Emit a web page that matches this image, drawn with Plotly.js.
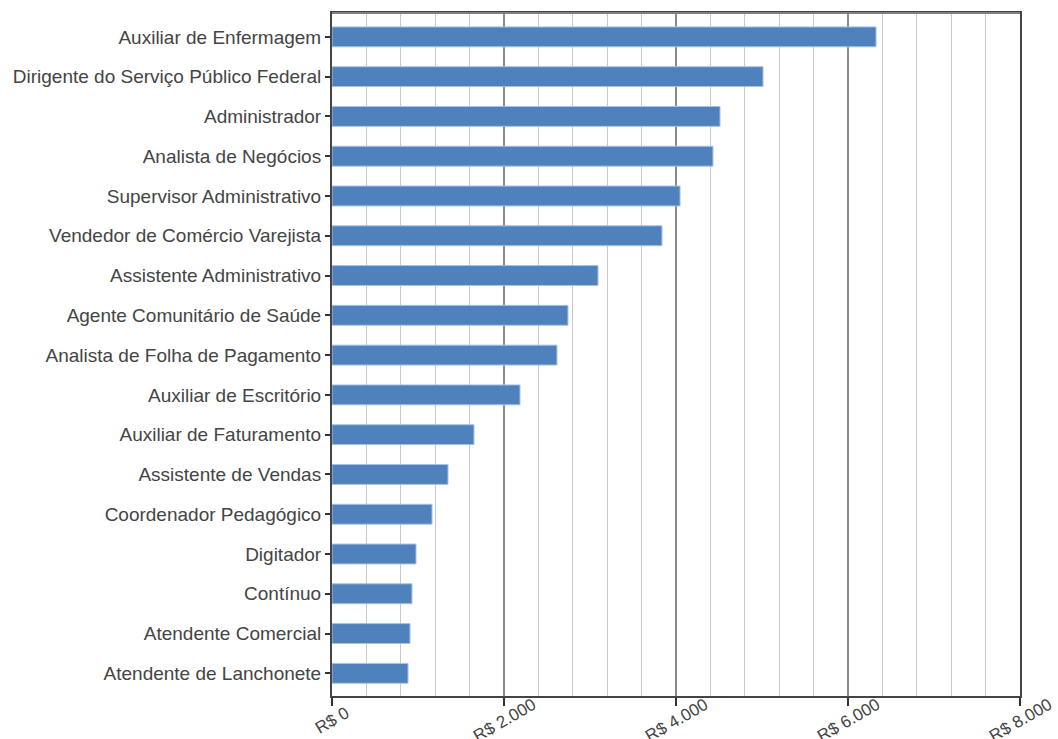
<!DOCTYPE html>
<html>
<head>
<meta charset="utf-8">
<script src="https://cdn.plot.ly/plotly-3.0.1.min.js"></script>
<style>html,body{margin:0;padding:0;background:#fff;}#chart{width:1058px;height:739px;}</style>
</head>
<body>
<div id="chart"></div>
<script>
const categories = [
  "Auxiliar de Enfermagem",
  "Dirigente do Serviço Público Federal",
  "Administrador",
  "Analista de Negócios",
  "Supervisor Administrativo",
  "Vendedor de Comércio Varejista",
  "Assistente Administrativo",
  "Agente Comunitário de Saúde",
  "Analista de Folha de Pagamento",
  "Auxiliar de Escritório",
  "Auxiliar de Faturamento",
  "Assistente de Vendas",
  "Coordenador Pedagógico",
  "Digitador",
  "Contínuo",
  "Atendente Comercial",
  "Atendente de Lanchonete"
];
const salaries = [6326, 5012, 4512, 4430, 4047, 3837, 3093, 2744, 2616, 2186, 1651, 1349, 1163, 977, 930, 907, 884];
const tickValues = [0, 2000, 4000, 6000, 8000];
const tickLabels = ["R$ 0", "R$ 2.000", "R$ 4.000", "R$ 6.000", "R$ 8.000"];

const trace = {
  type: 'bar',
  orientation: 'h',
  x: salaries,
  y: categories,
  width: 0.5,
  marker: {color: '#4f81bd', line: {color: '#a8c2e6', width: 1}},
  hoverinfo: 'x+y'
};

const tickAnnotations = tickValues.map((v, i) => ({
  x: v, xref: 'x', y: 0, yref: 'paper',
  xanchor: 'center', yanchor: 'middle',
  yshift: -24,
  text: tickLabels[i],
  textangle: -30,
  showarrow: false,
  font: {size: 17, color: '#444', family: 'Liberation Sans, Arial, sans-serif'}
}));

const layout = {
  width: 1058, height: 739,
  margin: {l: 332, r: 38, t: 13, b: 43},
  paper_bgcolor: '#fff', plot_bgcolor: '#fff',
  font: {family: 'Liberation Sans, Arial, sans-serif', color: '#444', size: 19},
  showlegend: false,
  annotations: tickAnnotations,
  shapes: [{type: 'line', xref: 'paper', yref: 'paper', x0: 0, x1: 1, y0: 1, y1: 1,
            line: {color: '#808080', width: 2}, layer: 'above'}],
  xaxis: {
    range: [0, 8000],
    tickvals: tickValues,
    ticktext: tickLabels,
    showticklabels: false,
    ticks: 'outside', ticklen: 8, tickwidth: 2, tickcolor: '#333',
    showline: true, linecolor: '#444', linewidth: 2, mirror: true,
    showgrid: true, gridcolor: '#8a8a8a', gridwidth: 1.5,
    minor: {dtick: 400, tick0: 0, showgrid: true, gridcolor: '#c8c8c8', gridwidth: 1, ticks: ''},
    zeroline: false,
    fixedrange: true
  },
  yaxis: {
    type: 'category',
    categoryorder: 'array',
    categoryarray: categories,
    range: [16.57, -0.6],
    tickfont: {size: 19, color: '#444'},
    ticks: 'outside', ticklen: 5, tickwidth: 2, tickcolor: '#333',
    showline: true, linecolor: '#444', linewidth: 2, mirror: true,
    showgrid: false, zeroline: false,
    fixedrange: true
  }
};

Plotly.newPlot('chart', [trace], layout, {displayModeBar: false, staticPlot: true});
</script>
</body>
</html>
